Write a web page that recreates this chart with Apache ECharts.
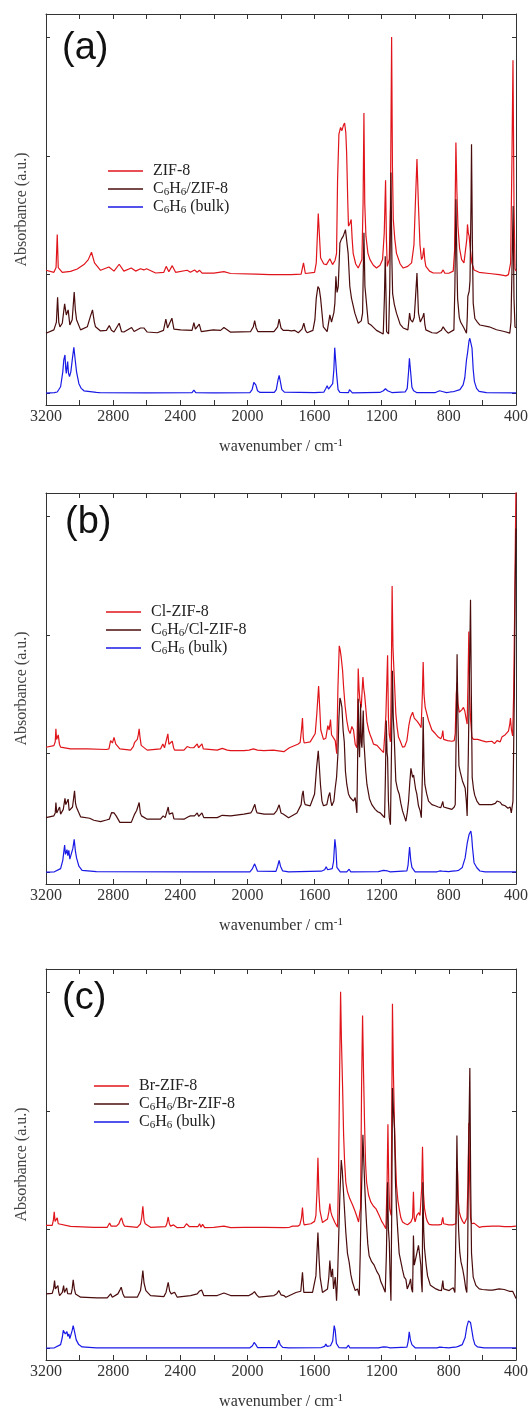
<!DOCTYPE html>
<html><head><meta charset="utf-8">
<script src="https://cdn.jsdelivr.net/npm/echarts@6/dist/echarts.min.js"></script>
<style>html,body{margin:0;padding:0;background:#fff}#c{width:531px;height:1414px}</style>
</head><body><div id="c"></div>
<script>
// ---------- tick labels / text ----------
const xLabelValues = [3200, 2800, 2400, 2000, 1600, 1200, 800, 400];
const yTickValues = [0, 1, 2, 3];
const panelLabels = ['(a)', '(b)', '(c)'];
const legendA = ['ZIF-8', 'C{s|6}H{s|6}/ZIF-8', 'C{s|6}H{s|6} (bulk)'];
const legendB = ['Cl-ZIF-8', 'C{s|6}H{s|6}/Cl-ZIF-8', 'C{s|6}H{s|6} (bulk)'];
const legendC = ['Br-ZIF-8', 'C{s|6}H{s|6}/Br-ZIF-8', 'C{s|6}H{s|6} (bulk)'];

// ---------- panel (a) ----------
const a_zif8 = [[3200,1.037],[3153,1.02],[3140,1.06],[3133,1.339],[3127,1.06],[3103,1.02],[3054,1.028],[3014,1.048],[2974,1.085],[2948,1.127],[2929,1.189],[2911,1.099],[2875,1.037],[2825,1.065],[2795,1.03],[2764,1.088],[2736,1.03],[2692,1.056],[2666,1.03],[2637,1.05],[2617,1.04],[2601,1.05],[2547,1.014],[2498,1.02],[2484,1.07],[2468,1.025],[2448,1.076],[2428,1.02],[2359,1.037],[2340,1.02],[2315,1.04],[2300,1.02],[2285,1.037],[2270,1.013],[2200,1.013],[2140,1.025],[2100,1.01],[1950,1.005],[1866,1.0],[1740,1.0],[1680,1.005],[1666,1.1],[1655,1.01],[1600,1.02],[1590,1.1],[1578,1.517],[1564,1.14],[1545,1.09],[1529,1.085],[1509,1.135],[1493,1.085],[1478,1.12],[1469,1.18],[1463,1.8],[1455,2.186],[1445,2.243],[1437,2.215],[1428,2.26],[1421,2.28],[1414,2.2],[1409,2.03],[1402,1.6],[1398,1.41],[1390,1.43],[1382,1.466],[1376,1.3],[1370,1.18],[1355,1.09],[1340,1.056],[1318,1.127],[1311,1.6],[1306,2.364],[1301,1.6],[1294,1.325],[1282,1.18],[1270,1.127],[1250,1.08],[1231,1.056],[1210,1.08],[1195,1.127],[1185,1.35],[1177,1.797],[1172,1.3],[1167,1.07],[1155,1.13],[1148,1.6],[1141,3.006],[1136,1.9],[1131,1.466],[1122,1.3],[1112,1.18],[1090,1.09],[1072,1.056],[1045,1.07],[1022,1.1],[1008,1.25],[1000,1.58],[990,1.975],[981,1.58],[972,1.25],[963,1.127],[956,1.15],[949,1.226],[943,1.12],[937,1.07],[915,1.03],[893,1.014],[845,1.015],[834,1.04],[824,1.012],[800,1.012],[774,1.03],[766,1.2],[758,2.116],[752,1.7],[746,1.41],[736,1.22],[724,1.127],[710,1.1],[699,1.085],[693,1.3],[689,1.424],[684,1.35],[679,1.325],[671,1.2],[663,1.1],[650,1.04],[620,1.02],[560,1.01],[500,1.0],[460,0.99],[445,1.0],[432,1.1],[424,2.0],[418,2.81],[412,1.6],[406,1.05],[400,1.03]];
const a_c6h6zif8 = [[3200,0.506],[3153,0.534],[3138,0.6],[3131,0.81],[3124,0.6],[3117,0.56],[3103,0.59],[3089,0.754],[3079,0.66],[3068,0.703],[3058,0.576],[3044,0.62],[3032,0.853],[3025,0.7],[3018,0.62],[2994,0.534],[2954,0.56],[2935,0.65],[2923,0.703],[2912,0.6],[2905,0.56],[2875,0.525],[2840,0.53],[2823,0.57],[2810,0.53],[2795,0.516],[2764,0.59],[2750,0.52],[2736,0.516],[2690,0.554],[2675,0.52],[2666,0.516],[2637,0.55],[2617,0.55],[2597,0.516],[2537,0.51],[2500,0.53],[2486,0.624],[2476,0.55],[2466,0.55],[2450,0.633],[2438,0.54],[2428,0.53],[2398,0.534],[2330,0.53],[2319,0.596],[2310,0.54],[2303,0.534],[2287,0.582],[2275,0.52],[2204,0.534],[2160,0.53],[2140,0.554],[2100,0.515],[1981,0.52],[1965,0.56],[1957,0.613],[1948,0.55],[1938,0.52],[1842,0.52],[1820,0.56],[1811,0.624],[1800,0.55],[1787,0.53],[1777,0.52],[1757,0.53],[1737,0.525],[1720,0.53],[1697,0.51],[1675,0.54],[1664,0.59],[1654,0.53],[1644,0.51],[1610,0.53],[1598,0.62],[1590,0.8],[1580,0.9],[1572,0.88],[1564,0.8],[1548,0.56],[1525,0.52],[1509,0.66],[1499,0.6],[1485,0.68],[1479,0.76],[1473,0.986],[1466,0.85],[1459,0.9],[1449,1.268],[1440,1.3],[1429,1.325],[1416,1.38],[1400,1.18],[1390,0.9],[1380,0.8],[1360,0.675],[1340,0.59],[1322,0.61],[1314,0.675],[1306,1.353],[1300,0.9],[1296,0.84],[1280,0.59],[1260,0.57],[1231,0.53],[1191,0.5],[1184,0.8],[1179,1.155],[1174,0.8],[1171,0.52],[1159,0.5],[1152,0.9],[1145,1.862],[1139,1.1],[1135,0.84],[1125,0.75],[1112,0.675],[1090,0.58],[1072,0.55],[1044,0.534],[1039,0.6],[1034,0.675],[1028,0.62],[1016,0.6],[1006,0.64],[999,0.8],[990,1.014],[981,0.675],[970,0.6],[963,0.59],[954,0.65],[949,0.675],[943,0.58],[937,0.534],[900,0.51],[873,0.506],[845,0.53],[834,0.56],[820,0.53],[804,0.506],[770,0.534],[764,0.9],[758,1.636],[752,1.1],[748,0.8],[738,0.64],[730,0.6],[710,0.55],[695,0.506],[690,0.65],[687,0.816],[679,0.86],[674,0.95],[668,1.6],[665,2.10],[660,1.3],[655,0.76],[645,0.63],[630,0.6],[615,0.575],[560,0.56],[516,0.535],[470,0.52],[437,0.506],[430,0.6],[422,1.2],[417,1.58],[412,0.8],[406,0.56],[400,0.55]];
const a_bulk = [[3200,0.0],[3150,0.005],[3133,0.01],[3113,0.054],[3100,0.18],[3094,0.28],[3087,0.322],[3082,0.2],[3079,0.167],[3071,0.266],[3066,0.17],[3060,0.14],[3052,0.18],[3042,0.3],[3034,0.387],[3026,0.28],[3018,0.18],[3004,0.08],[2990,0.04],[2974,0.02],[2900,0.006],[2890,0.012],[2880,0.004],[2600,0.003],[2330,0.005],[2319,0.025],[2308,0.004],[2210,0.003],[2200,0.012],[2190,0.003],[1985,0.005],[1972,0.03],[1962,0.09],[1957,0.105],[1950,0.07],[1940,0.02],[1925,0.006],[1840,0.006],[1828,0.03],[1818,0.11],[1811,0.15],[1804,0.1],[1795,0.03],[1780,0.008],[1600,0.004],[1545,0.008],[1533,0.04],[1525,0.062],[1517,0.035],[1509,0.03],[1492,0.08],[1485,0.2],[1480,0.384],[1475,0.384],[1468,0.15],[1460,0.03],[1449,0.006],[1398,0.004],[1392,0.03],[1390,0.04],[1385,0.02],[1375,0.003],[1211,0.006],[1190,0.02],[1178,0.037],[1165,0.02],[1140,0.005],[1060,0.01],[1048,0.04],[1040,0.18],[1035,0.294],[1029,0.2],[1020,0.05],[1010,0.02],[990,0.004],[880,0.005],[855,0.02],[844,0.03],[834,0.012],[814,0.004],[790,0.01],[780,0.02],[774,0.012],[734,0.03],[715,0.07],[705,0.13],[695,0.28],[689,0.336],[680,0.44],[675,0.463],[668,0.463],[662,0.38],[655,0.2],[648,0.1],[635,0.04],[620,0.015],[576,0.004],[400,0.003]];

// ---------- panel (b) ----------
const b_clzif8 = [[3200,1.054],[3153,1.068],[3145,1.1],[3141,1.209],[3137,1.12],[3133,1.12],[3127,1.158],[3120,1.08],[3113,1.055],[3054,1.04],[2954,1.04],[2840,1.035],[2825,1.04],[2815,1.11],[2804,1.09],[2795,1.138],[2784,1.08],[2760,1.04],[2696,1.03],[2680,1.06],[2672,1.096],[2656,1.12],[2650,1.16],[2645,1.209],[2640,1.14],[2633,1.07],[2597,1.03],[2518,1.04],[2504,1.082],[2494,1.05],[2486,1.04],[2474,1.167],[2468,1.08],[2462,1.08],[2448,1.105],[2440,1.05],[2434,1.03],[2378,1.03],[2359,1.06],[2340,1.05],[2320,1.05],[2299,1.082],[2291,1.05],[2287,1.04],[2271,1.082],[2263,1.04],[2259,1.03],[2180,1.03],[2150,1.045],[2140,1.048],[2120,1.03],[2100,1.025],[2021,1.025],[1990,1.03],[1965,1.04],[1940,1.03],[1902,1.025],[1846,1.03],[1783,1.017],[1750,1.05],[1700,1.08],[1686,1.095],[1678,1.2],[1672,1.30],[1667,1.13],[1662,1.09],[1626,1.1],[1596,1.17],[1586,1.35],[1576,1.57],[1568,1.35],[1563,1.2],[1547,1.12],[1533,1.13],[1521,1.237],[1513,1.2],[1505,1.288],[1499,1.16],[1493,1.16],[1477,1.11],[1468,1.0],[1461,1.55],[1453,1.91],[1448,1.88],[1441,1.81],[1433,1.7],[1427,1.56],[1418,1.4],[1408,1.28],[1398,1.2],[1388,1.17],[1378,1.23],[1368,1.2],[1358,1.08],[1348,1.05],[1344,1.3],[1340,1.718],[1335,1.55],[1330,1.45],[1322,1.39],[1316,1.55],[1312,1.647],[1307,1.55],[1302,1.5],[1288,1.27],[1278,1.2],[1269,1.16],[1258,1.12],[1249,1.08],[1239,1.095],[1228,1.07],[1219,1.065],[1203,1.03],[1189,1.01],[1180,1.2],[1175,1.33],[1165,1.83],[1160,1.3],[1155,1.16],[1148,1.1],[1143,1.6],[1138,2.415],[1133,1.9],[1128,1.73],[1116,1.34],[1108,1.22],[1100,1.14],[1088,1.1],[1076,1.055],[1063,1.06],[1050,1.11],[1038,1.24],[1028,1.31],[1022,1.32],[1016,1.35],[1006,1.3],[997,1.29],[987,1.27],[977,1.25],[965,1.22],[958,1.5],[953,1.774],[948,1.5],[941,1.39],[921,1.28],[901,1.2],[881,1.17],[863,1.14],[848,1.125],[841,1.15],[836,1.195],[831,1.12],[808,1.11],[782,1.105],[768,1.11],[762,1.17],[756,1.5],[751,1.6],[746,1.42],[738,1.35],[732,1.336],[723,1.37],[713,1.39],[705,1.36],[699,1.31],[691,1.25],[686,1.6],[681,2.03],[676,1.5],[671,1.3],[663,1.14],[653,1.12],[628,1.12],[604,1.11],[578,1.1],[544,1.105],[528,1.085],[513,1.11],[504,1.12],[494,1.1],[484,1.14],[474,1.13],[464,1.16],[455,1.17],[445,1.19],[437,1.25],[433,1.3],[427,1.2],[420,1.15],[414,1.5],[408,2.2],[403,2.9],[400,3.3]];
const b_c6h6clzif8 = [[3200,0.46],[3153,0.475],[3145,0.5],[3141,0.588],[3136,0.5],[3129,0.52],[3119,0.55],[3113,0.49],[3109,0.475],[3097,0.53],[3087,0.624],[3082,0.57],[3077,0.57],[3068,0.616],[3062,0.52],[3058,0.52],[3042,0.55],[3030,0.686],[3024,0.58],[3018,0.545],[2994,0.467],[2940,0.455],[2915,0.438],[2875,0.427],[2840,0.44],[2823,0.447],[2809,0.503],[2800,0.49],[2795,0.5],[2782,0.475],[2760,0.42],[2692,0.42],[2672,0.49],[2660,0.52],[2645,0.588],[2638,0.5],[2631,0.475],[2597,0.447],[2518,0.447],[2502,0.475],[2490,0.46],[2478,0.52],[2472,0.55],[2466,0.49],[2458,0.48],[2446,0.5],[2438,0.45],[2432,0.438],[2378,0.447],[2355,0.466],[2340,0.475],[2329,0.483],[2315,0.475],[2299,0.5],[2290,0.47],[2271,0.5],[2260,0.46],[2180,0.46],[2150,0.48],[2140,0.49],[2100,0.475],[2021,0.49],[1980,0.5],[1971,0.52],[1956,0.573],[1948,0.52],[1942,0.5],[1900,0.49],[1842,0.49],[1825,0.52],[1811,0.568],[1800,0.5],[1787,0.49],[1755,0.46],[1705,0.5],[1680,0.57],[1674,0.65],[1668,0.686],[1662,0.6],[1656,0.57],[1626,0.56],[1600,0.66],[1588,0.88],[1578,1.025],[1572,0.9],[1565,0.74],[1556,0.6],[1547,0.56],[1527,0.57],[1517,0.64],[1509,0.672],[1503,0.6],[1497,0.56],[1485,0.6],[1477,0.71],[1469,0.8],[1461,0.995],[1455,1.3],[1449,1.47],[1443,1.44],[1437,1.39],[1430,1.2],[1423,1.1],[1416,0.85],[1408,0.74],[1398,0.66],[1388,0.63],[1378,0.62],[1368,0.6],[1358,0.63],[1352,0.55],[1348,0.5],[1344,0.9],[1340,1.463],[1336,1.1],[1332,0.97],[1326,1.42],[1322,1.1],[1318,1.05],[1310,1.364],[1306,1.1],[1302,1.11],[1295,0.85],[1288,0.74],[1273,0.62],[1259,0.57],[1239,0.53],[1224,0.51],[1209,0.5],[1196,0.48],[1183,0.46],[1178,0.8],[1173,1.28],[1168,1.0],[1165,0.97],[1160,0.6],[1155,0.46],[1148,0.4],[1142,1.0],[1136,1.70],[1131,1.3],[1126,1.16],[1116,0.77],[1106,0.7],[1096,0.66],[1086,0.58],[1076,0.517],[1063,0.46],[1056,0.43],[1048,0.5],[1040,0.6],[1033,0.75],[1026,0.876],[1021,0.84],[1016,0.8],[1010,0.82],[1005,0.83],[998,0.7],[991,0.66],[981,0.56],[971,0.517],[964,0.46],[958,0.8],[953,1.31],[948,0.9],[943,0.74],[932,0.66],[921,0.6],[901,0.57],[881,0.56],[863,0.55],[848,0.545],[842,0.57],[836,0.596],[831,0.55],[826,0.545],[808,0.54],[782,0.53],[768,0.55],[762,0.57],[756,1.2],[751,1.84],[746,1.3],[740,0.9],[733,0.85],[719,0.77],[711,0.74],[703,0.71],[696,0.6],[691,0.475],[684,1.0],[678,1.6],[671,2.30],[666,1.5],[661,0.8],[653,0.7],[646,0.65],[633,0.6],[618,0.57],[588,0.57],[544,0.57],[523,0.58],[513,0.6],[504,0.6],[494,0.59],[484,0.57],[474,0.56],[465,0.56],[448,0.54],[435,0.55],[428,0.5],[418,0.6],[410,1.5],[405,2.4],[400,2.9]];
const b_bulk = [[3200,0],[3150,0.003],[3113,0.03],[3100,0.1],[3089,0.229],[3084,0.15],[3081,0.15],[3075,0.19],[3070,0.14],[3064,0.184],[3058,0.11],[3050,0.12],[3040,0.2],[3032,0.277],[3025,0.18],[3018,0.12],[3004,0.05],[2985,0.015],[2900,0.004],[2330,0.003],[2319,0.014],[2308,0.003],[2210,0.002],[2200,0.008],[2190,0.002],[1985,0.003],[1970,0.03],[1957,0.07],[1950,0.045],[1940,0.008],[1830,0.006],[1820,0.05],[1811,0.1],[1803,0.05],[1790,0.01],[1755,0.003],[1560,0.008],[1540,0.02],[1531,0.045],[1522,0.02],[1495,0.03],[1487,0.09],[1479,0.277],[1473,0.2],[1467,0.04],[1447,0.003],[1408,0.003],[1394,0.025],[1385,0.003],[1220,0.005],[1190,0.015],[1179,0.025],[1165,0.01],[1149,0.002],[1050,0.01],[1043,0.06],[1034,0.212],[1027,0.1],[1020,0.04],[1001,0.003],[870,0.003],[855,0.01],[848,0.015],[840,0.008],[800,0.004],[780,0.008],[760,0.01],[742,0.015],[720,0.04],[703,0.12],[690,0.25],[679,0.32],[669,0.347],[664,0.3],[659,0.206],[650,0.08],[633,0.037],[615,0.01],[584,0.002],[400,0.002]];

// ---------- panel (c) ----------
const c_brzif8 = [[3200,1.037],[3163,1.037],[3156,1.08],[3151,1.15],[3146,1.07],[3141,1.06],[3133,1.10],[3127,1.05],[3123,1.037],[3054,1.028],[2915,1.02],[2835,1.02],[2828,1.03],[2821,1.056],[2812,1.03],[2805,1.025],[2780,1.03],[2766,1.05],[2758,1.08],[2750,1.10],[2740,1.05],[2732,1.03],[2656,1.02],[2637,1.05],[2630,1.1],[2623,1.198],[2616,1.08],[2609,1.05],[2577,1.02],[2488,1.025],[2480,1.05],[2472,1.107],[2465,1.05],[2458,1.03],[2440,1.04],[2432,1.056],[2418,1.017],[2378,1.02],[2363,1.05],[2345,1.025],[2295,1.025],[2285,1.05],[2277,1.02],[2267,1.045],[2255,1.017],[2200,1.02],[2140,1.03],[2100,1.017],[2021,1.02],[1900,1.02],[1783,1.017],[1750,1.02],[1731,1.03],[1700,1.03],[1688,1.04],[1678,1.1],[1672,1.186],[1666,1.07],[1662,1.04],[1622,1.05],[1600,1.07],[1592,1.12],[1585,1.35],[1580,1.607],[1574,1.3],[1568,1.16],[1553,1.06],[1523,1.09],[1515,1.15],[1509,1.22],[1503,1.15],[1497,1.12],[1479,1.06],[1463,1.02],[1457,1.5],[1451,2.3],[1445,3.008],[1440,2.6],[1433,2.2],[1427,1.8],[1421,1.57],[1414,1.4],[1404,1.32],[1390,1.26],[1374,1.21],[1360,1.16],[1350,1.12],[1338,1.065],[1330,1.15],[1326,1.178],[1320,2.2],[1314,2.808],[1308,2.3],[1302,1.884],[1296,1.55],[1290,1.40],[1278,1.29],[1265,1.234],[1250,1.2],[1235,1.178],[1225,1.15],[1215,1.12],[1200,1.07],[1191,1.05],[1175,1.008],[1168,1.4],[1163,1.89],[1158,1.4],[1153,1.178],[1144,1.12],[1140,2.0],[1136,2.907],[1130,2.3],[1124,1.884],[1118,1.6],[1112,1.376],[1104,1.25],[1096,1.178],[1086,1.1],[1076,1.065],[1060,1.05],[1046,1.042],[1036,1.05],[1026,1.065],[1016,1.1],[1011,1.319],[1006,1.1],[1001,1.065],[991,1.12],[979,1.144],[972,1.12],[967,1.107],[962,1.35],[957,1.70],[951,1.3],[945,1.178],[935,1.1],[927,1.065],[917,1.045],[900,1.04],[877,1.04],[860,1.04],[844,1.045],[840,1.08],[836,1.104],[831,1.05],[826,1.045],[800,1.04],[778,1.04],[768,1.045],[758,1.05],[753,1.3],[748,1.5],[744,1.25],[738,1.15],[728,1.1],[718,1.07],[708,1.05],[699,1.045],[692,1.1],[686,1.4],[681,1.9],[676,1.4],[671,1.1],[664,1.05],[659,1.05],[650,1.055],[639,1.05],[619,1.02],[600,1.025],[540,1.03],[500,1.03],[470,1.025],[429,1.025],[400,1.03]];
const c_c6h6brzif8 = [[3200,0.458],[3163,0.463],[3155,0.5],[3149,0.57],[3144,0.5],[3139,0.49],[3129,0.528],[3124,0.47],[3119,0.444],[3103,0.47],[3095,0.528],[3090,0.47],[3086,0.458],[3077,0.508],[3071,0.46],[3067,0.444],[3050,0.458],[3044,0.5],[3038,0.576],[3031,0.5],[3024,0.458],[2994,0.43],[2895,0.424],[2835,0.424],[2815,0.458],[2805,0.43],[2795,0.43],[2772,0.458],[2760,0.49],[2752,0.514],[2742,0.46],[2732,0.43],[2656,0.43],[2637,0.486],[2630,0.56],[2623,0.655],[2616,0.55],[2605,0.486],[2577,0.444],[2498,0.435],[2485,0.47],[2472,0.556],[2463,0.48],[2454,0.458],[2434,0.472],[2418,0.43],[2339,0.444],[2299,0.458],[2287,0.48],[2273,0.491],[2260,0.444],[2180,0.444],[2140,0.466],[2100,0.444],[1991,0.444],[1970,0.46],[1958,0.477],[1945,0.45],[1932,0.43],[1842,0.444],[1825,0.46],[1813,0.486],[1800,0.45],[1783,0.444],[1771,0.43],[1711,0.47],[1682,0.48],[1672,0.64],[1664,0.47],[1612,0.47],[1592,0.61],[1586,0.8],[1580,0.975],[1573,0.75],[1567,0.6],[1553,0.47],[1523,0.5],[1515,0.6],[1509,0.74],[1501,0.6],[1493,0.67],[1487,0.5],[1477,0.6],[1469,0.40],[1463,0.6],[1457,0.9],[1449,1.3],[1441,1.587],[1435,1.5],[1429,1.35],[1414,0.98],[1404,0.8],[1394,0.726],[1384,0.62],[1374,0.556],[1358,0.486],[1344,0.5],[1334,0.443],[1328,0.8],[1322,1.234],[1312,1.80],[1306,1.55],[1302,1.4],[1296,1.2],[1290,1.037],[1283,0.88],[1275,0.78],[1260,0.73],[1245,0.7],[1230,0.65],[1215,0.613],[1205,0.56],[1195,0.528],[1179,0.472],[1172,0.8],[1165,1.40],[1160,1.0],[1155,0.9],[1150,0.6],[1145,0.40],[1140,1.2],[1136,2.195],[1130,2.0],[1124,1.856],[1118,1.4],[1112,1.17],[1104,0.98],[1096,0.8],[1086,0.73],[1076,0.66],[1066,0.6],[1056,0.58],[1048,0.5],[1040,0.486],[1034,0.55],[1028,0.585],[1022,0.5],[1016,0.472],[1011,0.95],[1006,0.7],[1001,0.7],[991,0.8],[981,0.867],[975,0.8],[967,0.7],[963,0.55],[959,0.472],[955,1.40],[950,1.0],[945,0.84],[935,0.7],[927,0.61],[910,0.53],[877,0.5],[860,0.49],[844,0.486],[840,0.53],[836,0.57],[831,0.5],[826,0.486],[798,0.486],[786,0.5],[774,0.51],[764,0.47],[758,1.0],[752,1.794],[747,1.3],[742,1.0],[735,0.81],[728,0.73],[718,0.67],[709,0.6],[699,0.5],[693,0.47],[688,0.8],[683,1.6],[675,2.364],[670,1.4],[665,0.8],[660,0.7],[655,0.6],[639,0.53],[619,0.5],[600,0.495],[560,0.49],[540,0.49],[500,0.5],[470,0.495],[440,0.48],[420,0.48],[410,0.45],[400,0.42]];
const c_bulk = [[3200,0],[3150,0.003],[3113,0.03],[3103,0.09],[3097,0.15],[3090,0.16],[3085,0.12],[3080,0.13],[3075,0.14],[3070,0.1],[3064,0.12],[3058,0.08],[3050,0.09],[3044,0.15],[3038,0.19],[3030,0.14],[3020,0.07],[3005,0.03],[2985,0.01],[2900,0.003],[2330,0.003],[2319,0.01],[2308,0.002],[2210,0.002],[2200,0.006],[2190,0.002],[1985,0.003],[1970,0.02],[1960,0.048],[1950,0.03],[1940,0.005],[1830,0.005],[1822,0.03],[1813,0.068],[1805,0.03],[1790,0.006],[1755,0.002],[1560,0.005],[1540,0.015],[1533,0.034],[1525,0.015],[1505,0.02],[1492,0.06],[1483,0.19],[1477,0.15],[1470,0.04],[1455,0.005],[1410,0.002],[1398,0.025],[1390,0.003],[1220,0.003],[1190,0.01],[1179,0.02],[1165,0.008],[1150,0.002],[1050,0.008],[1043,0.05],[1036,0.138],[1029,0.07],[1020,0.03],[1001,0.003],[870,0.003],[855,0.008],[845,0.012],[835,0.006],[800,0.003],[780,0.006],[760,0.008],[744,0.015],[720,0.03],[703,0.09],[693,0.18],[683,0.23],[675,0.22],[671,0.217],[663,0.15],[655,0.08],[645,0.03],[629,0.01],[590,0.002],[400,0.002]];

// ---------- chart ----------
const chart = echarts.init(document.getElementById('c'), null, {renderer: 'canvas'});
const SERIF = 'Liberation Serif, Times New Roman, serif';
const AX = '#333';
const COLORS = ['#e0151b', '#4a0c0c', '#1a1ae6'];
const panels = [
  {top: 14, height: 391, label: panelLabels[0], lt: 30, ll: 62, legTop: 162, legLeft: 108, legend: legendA, data: [a_zif8, a_c6h6zif8, a_bulk]},
  {top: 493, height: 391, label: panelLabels[1], lt: 504, ll: 65, legTop: 603, legLeft: 106, legend: legendB, data: [b_clzif8, b_c6h6clzif8, b_bulk]},
  {top: 969, height: 391, label: panelLabels[2], lt: 980, ll: 62, legTop: 1077, legLeft: 94, legend: legendC, data: [c_brzif8, c_c6h6brzif8, c_bulk]}
];
const richSub = {
  s: {fontFamily: SERIF, fontSize: 11, lineHeight: 6, verticalAlign: 'bottom', color: '#222'},
  p: {fontFamily: SERIF, fontSize: 11, lineHeight: 6, verticalAlign: 'top', color: '#222'}
};
const grid = [], xAxis = [], yAxis = [], series = [], legend = [], title = [];
const legendMap = {};
panels.forEach((p, i) => {
  grid.push({left: 46, right: 15, top: p.top, height: p.height, containLabel: false});
  const xBase = {gridIndex: i, type: 'value', min: 400, max: 3200, interval: 200, inverse: true,
    axisLine: {show: true, onZero: false, lineStyle: {color: AX, width: 1}},
    axisTick: {show: true, inside: true, length: 5, lineStyle: {color: AX}},
    splitLine: {show: false}};
  xAxis.push(Object.assign({}, xBase, {position: 'bottom',
    axisLabel: {show: true, margin: 4, fontFamily: SERIF, fontSize: 16, color: '#333',
      formatter: v => xLabelValues.includes(v) ? String(v) : ''},
    name: 'wavenumber / cm{p|-1}', nameLocation: 'middle', nameGap: 33,
    nameTextStyle: {fontFamily: SERIF, fontSize: 16, color: '#333', lineHeight: 18, rich: richSub}}));
  xAxis.push(Object.assign({}, xBase, {position: 'top', axisLabel: {show: false}}));
  const yBase = {gridIndex: i, type: 'value', min: -0.1, max: 3.2,
    axisLine: {show: true, onZero: false, lineStyle: {color: AX, width: 1}},
    axisTick: {show: true, inside: true, length: 4, customValues: yTickValues, lineStyle: {color: AX}},
    axisLabel: {show: false}, splitLine: {show: false}};
  yAxis.push(Object.assign({}, yBase, {position: 'left', name: 'Absorbance (a.u.)', nameLocation: 'middle', nameGap: 16,
    nameTextStyle: {fontFamily: SERIF, fontSize: 16, color: '#444'}}));
  yAxis.push(Object.assign({}, yBase, {position: 'right'}));
  const names = [];
  p.data.forEach((d, k) => {
    const nm = 'p' + i + 's' + k;
    names.push(nm);
    legendMap[nm] = p.legend[k];
    series.push({name: nm, type: 'line', xAxisIndex: 2 * i, yAxisIndex: 2 * i, data: d,
      showSymbol: false, symbol: 'none', clip: true, color: COLORS[k],
      lineStyle: {color: COLORS[k], width: 1.2}, z: 2 + k, animation: false});
  });
  legend.push({data: names, left: p.legLeft, top: p.legTop, orient: 'vertical', itemWidth: 35, itemHeight: 1.6,
    itemGap: 0, icon: 'rect', selectedMode: false, padding: 0,
    formatter: n => legendMap[n],
    textStyle: {fontFamily: SERIF, fontSize: 16, color: '#222', lineHeight: 18, padding: [0, 0, 0, 5], rich: richSub}});
  title.push({text: p.label, left: p.ll, top: p.lt, padding: 0,
    textStyle: {fontFamily: 'Liberation Sans, Arial, sans-serif', fontSize: 38, fontWeight: 'normal', color: '#111'}});
});
chart.setOption({animation: false, backgroundColor: '#fff', grid, xAxis, yAxis, series, legend, title});
</script>
</body></html>
